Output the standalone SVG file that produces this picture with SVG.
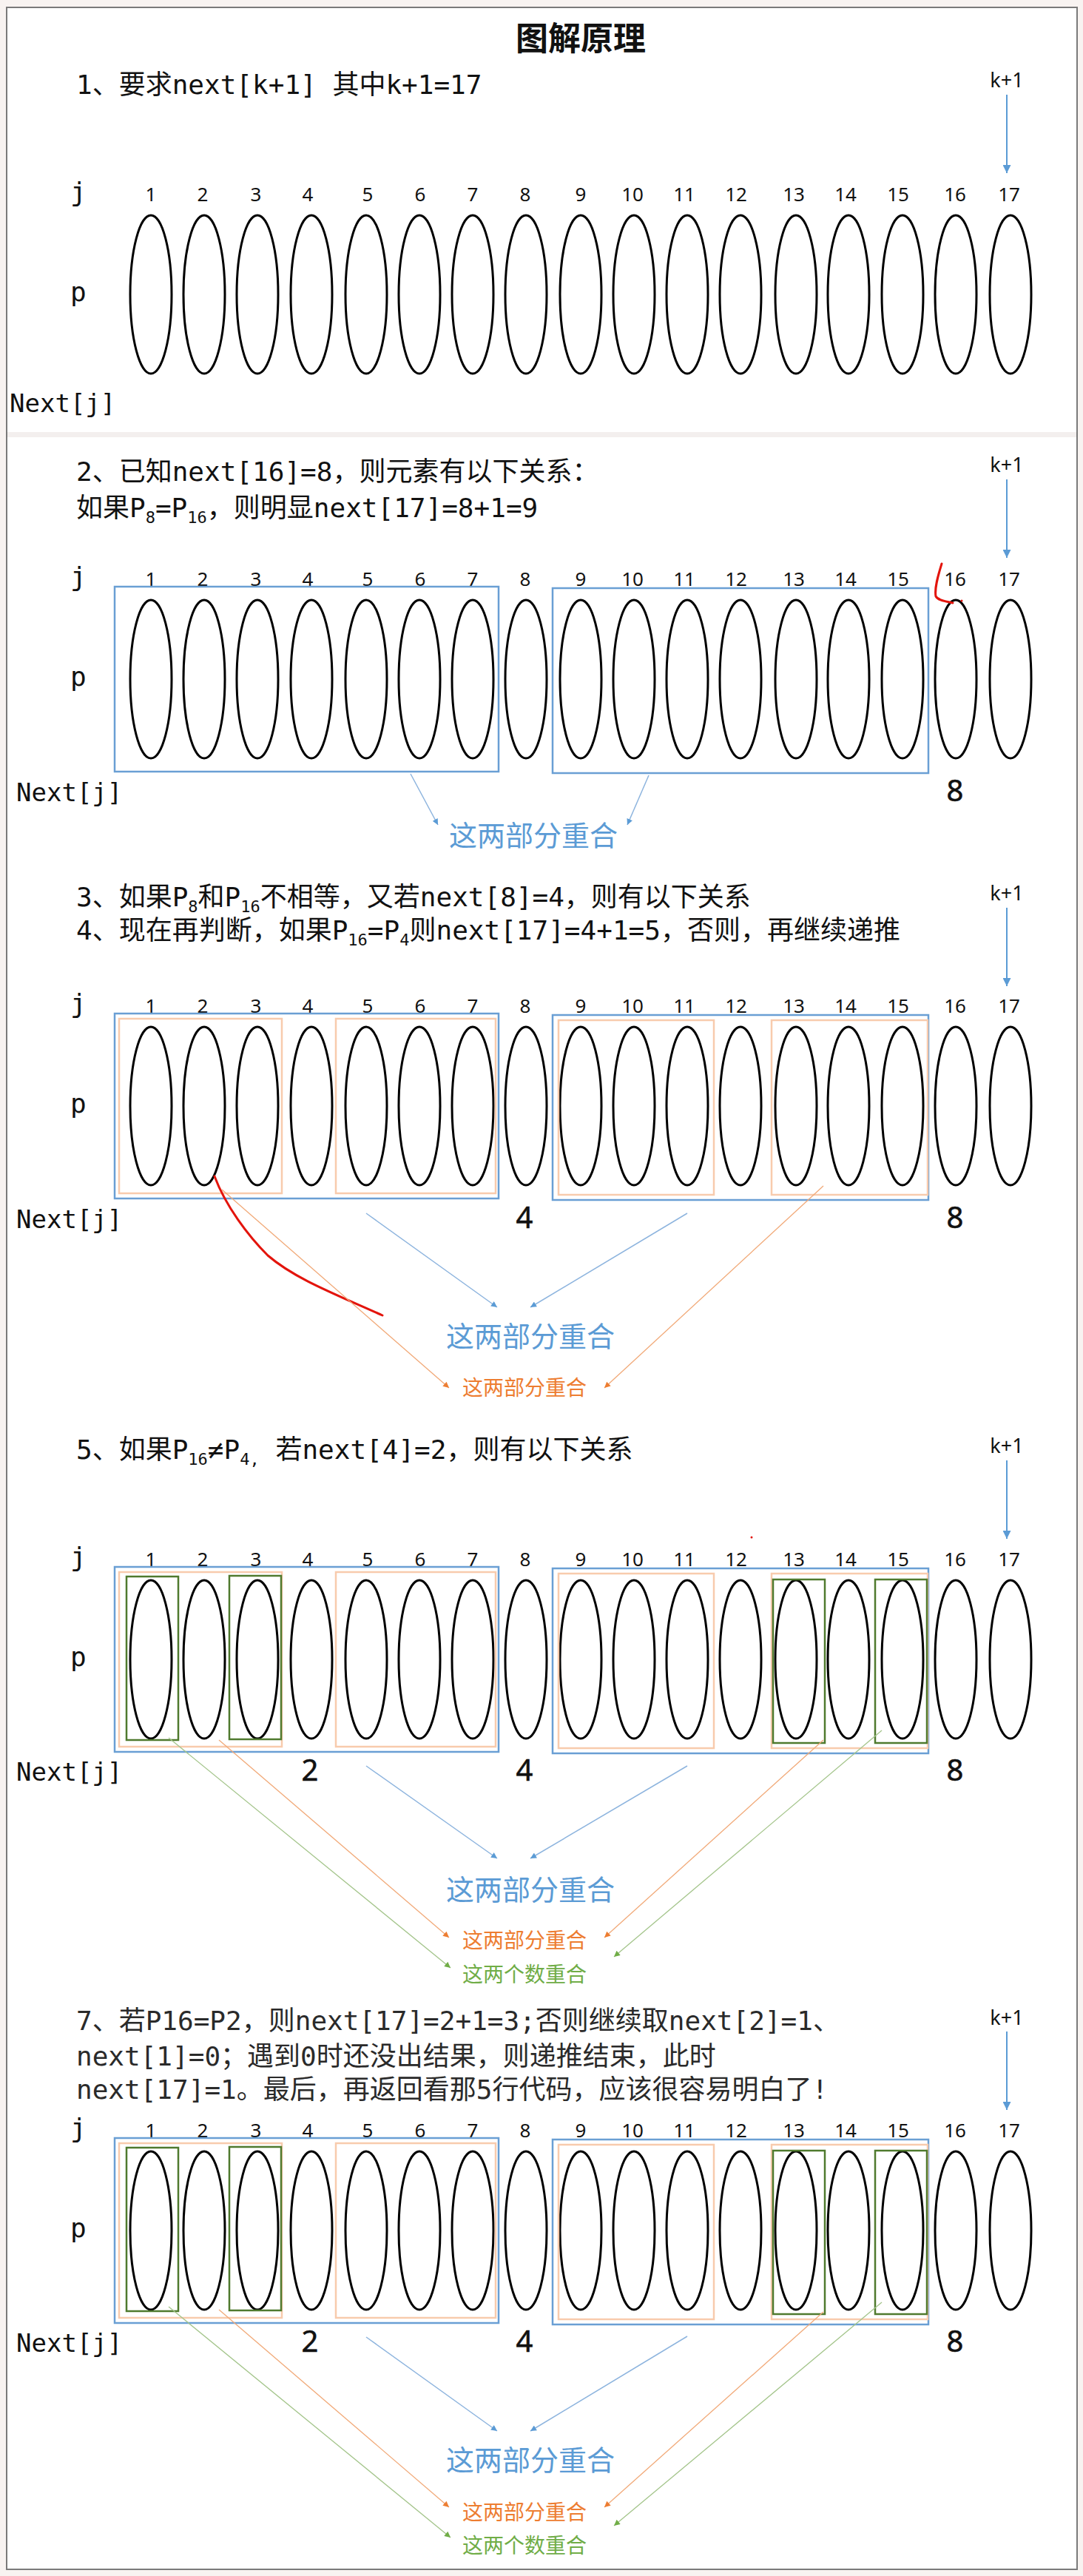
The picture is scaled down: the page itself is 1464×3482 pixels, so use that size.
<svg xmlns="http://www.w3.org/2000/svg" width="1464" height="3482" viewBox="0 0 1464 3482">
<style>
.t{font-family:'DejaVu Sans Mono','Noto Sans CJK SC',monospace;font-size:36px;fill:#111}
.t7{fill:#2a2a2a}
.sub{font-size:22px}
.ttl{font-family:'Noto Sans CJK SC',sans-serif;font-size:44px;font-weight:bold;fill:#111}
.n{font-family:'Noto Sans','Noto Sans CJK SC',sans-serif;font-size:26px;fill:#111;text-anchor:middle}
.k{font-family:'Noto Sans',sans-serif;font-size:27px;fill:#111;text-anchor:middle}
.lab{font-family:'DejaVu Sans Mono',monospace;font-size:36px;fill:#111}
.nx{font-family:'DejaVu Sans Mono',monospace;font-size:34px;fill:#111}
.v{font-family:'Noto Sans',sans-serif;font-size:40px;fill:#111;text-anchor:middle;stroke:#111;stroke-width:0.6}
.lb{font-family:'Noto Sans CJK SC',sans-serif;font-size:38px;fill:#5b9bd5;text-anchor:middle}
.lo{font-family:'Noto Sans CJK SC',sans-serif;font-size:28px;fill:#ed7d31;text-anchor:middle}
.lg{font-family:'Noto Sans CJK SC',sans-serif;font-size:28px;fill:#70ad47;text-anchor:middle}
ellipse{fill:none;stroke:#000;stroke-width:3}
.bb{fill:none;stroke:#6a9fd4;stroke-width:2.5}
.ob{fill:none;stroke:#f8cbad;stroke-width:2.5}
.gb{fill:none;stroke:#4f7a2e;stroke-width:2.5}
.ab{fill:none;stroke:#8db4de;stroke-width:1.5}
.ao{fill:none;stroke:#f1a978;stroke-width:1.3}
.ag{fill:none;stroke:#a3c48a;stroke-width:1.3}
.ak{fill:none;stroke:#5b9bd5;stroke-width:2}
.red{fill:none;stroke:#e3140c;stroke-width:3;stroke-linecap:round}
</style>
<defs>
<marker id="mk" viewBox="0 0 10 10" refX="10" refY="5" markerWidth="12" markerHeight="11" markerUnits="userSpaceOnUse" orient="auto"><path d="M0,0 L10,5 L0,10 z" fill="#5b9bd5"/></marker>
<marker id="mb" viewBox="0 0 10 10" refX="10" refY="5" markerWidth="10" markerHeight="8" markerUnits="userSpaceOnUse" orient="auto"><path d="M0,0 L10,5 L0,10 z" fill="#5b9bd5"/></marker>
<marker id="mo" viewBox="0 0 10 10" refX="10" refY="5" markerWidth="10" markerHeight="8" markerUnits="userSpaceOnUse" orient="auto"><path d="M0,0 L10,5 L0,10 z" fill="#ed7d31"/></marker>
<marker id="mg" viewBox="0 0 10 10" refX="10" refY="5" markerWidth="10" markerHeight="8" markerUnits="userSpaceOnUse" orient="auto"><path d="M0,0 L10,5 L0,10 z" fill="#70ad47"/></marker>
</defs>
<rect x="0" y="0" width="1464" height="3482" fill="#f8f3f1"/>
<rect x="9" y="10" width="1447" height="3463" fill="#fff" stroke="#7a7a7a" stroke-width="2"/>
<rect x="10" y="584" width="1445" height="7" fill="#f3efee"/>

<text class="ttl" x="785" y="68" text-anchor="middle">图解原理</text>

<!-- Section 1 -->
<g id="s1">
<text class="t" x="103" y="127">1、要求next[k+1] 其中k+1=17</text>
<text class="k" x="1361" y="118">k+1</text>
<text class="lab" x="95" y="272">j</text>
<text class="lab" x="95" y="407">p</text>
<text class="nx" x="13" y="557">Next[j]</text>
<g id="s1-cells">
<text class="n" x="204" y="272">1</text><text class="n" x="274" y="272">2</text><text class="n" x="346" y="272">3</text><text class="n" x="416" y="272">4</text><text class="n" x="497" y="272">5</text><text class="n" x="568" y="272">6</text><text class="n" x="639" y="272">7</text><text class="n" x="710" y="272">8</text><text class="n" x="785" y="272">9</text><text class="n" x="855" y="272">10</text><text class="n" x="925" y="272">11</text><text class="n" x="995" y="272">12</text><text class="n" x="1073" y="272">13</text><text class="n" x="1143" y="272">14</text><text class="n" x="1214" y="272">15</text><text class="n" x="1291" y="272">16</text><text class="n" x="1364" y="272">17</text>
<ellipse cx="204" cy="398" rx="28" ry="107"/><ellipse cx="276" cy="398" rx="28" ry="107"/><ellipse cx="348" cy="398" rx="28" ry="107"/><ellipse cx="421" cy="398" rx="28" ry="107"/><ellipse cx="495" cy="398" rx="28" ry="107"/><ellipse cx="567" cy="398" rx="28" ry="107"/><ellipse cx="639" cy="398" rx="28" ry="107"/><ellipse cx="711" cy="398" rx="28" ry="107"/><ellipse cx="785" cy="398" rx="28" ry="107"/><ellipse cx="857" cy="398" rx="28" ry="107"/><ellipse cx="929" cy="398" rx="28" ry="107"/><ellipse cx="1001" cy="398" rx="28" ry="107"/><ellipse cx="1076" cy="398" rx="28" ry="107"/><ellipse cx="1147" cy="398" rx="28" ry="107"/><ellipse cx="1220" cy="398" rx="28" ry="107"/><ellipse cx="1292" cy="398" rx="28" ry="107"/><ellipse cx="1366" cy="398" rx="28" ry="107"/>
</g>
</g>

<!-- Section 2 -->
<g id="s2">
<text class="t" x="103" y="650">2、已知next[16]=8，则元素有以下关系：</text>
<text class="t" x="103" y="699">如果P<tspan class="sub" dy="8">8</tspan><tspan dy="-8">=P</tspan><tspan class="sub" dy="8">16</tspan><tspan dy="-8">，则明显next[17]=8+1=9</tspan></text>
<text class="k" x="1361" y="638">k+1</text>
<text class="lab" x="95" y="792">j</text>
<text class="lab" x="95" y="927">p</text>
<text class="nx" x="22" y="1083">Next[j]</text>
<text class="v" x="1291" y="1083">8</text>
<g id="s2-cells">
<text class="n" x="204" y="792">1</text><text class="n" x="274" y="792">2</text><text class="n" x="346" y="792">3</text><text class="n" x="416" y="792">4</text><text class="n" x="497" y="792">5</text><text class="n" x="568" y="792">6</text><text class="n" x="639" y="792">7</text><text class="n" x="710" y="792">8</text><text class="n" x="785" y="792">9</text><text class="n" x="855" y="792">10</text><text class="n" x="925" y="792">11</text><text class="n" x="995" y="792">12</text><text class="n" x="1073" y="792">13</text><text class="n" x="1143" y="792">14</text><text class="n" x="1214" y="792">15</text><text class="n" x="1291" y="792">16</text><text class="n" x="1364" y="792">17</text>
<ellipse cx="204" cy="918" rx="28" ry="107"/><ellipse cx="276" cy="918" rx="28" ry="107"/><ellipse cx="348" cy="918" rx="28" ry="107"/><ellipse cx="421" cy="918" rx="28" ry="107"/><ellipse cx="495" cy="918" rx="28" ry="107"/><ellipse cx="567" cy="918" rx="28" ry="107"/><ellipse cx="639" cy="918" rx="28" ry="107"/><ellipse cx="711" cy="918" rx="28" ry="107"/><ellipse cx="785" cy="918" rx="28" ry="107"/><ellipse cx="857" cy="918" rx="28" ry="107"/><ellipse cx="929" cy="918" rx="28" ry="107"/><ellipse cx="1001" cy="918" rx="28" ry="107"/><ellipse cx="1076" cy="918" rx="28" ry="107"/><ellipse cx="1147" cy="918" rx="28" ry="107"/><ellipse cx="1220" cy="918" rx="28" ry="107"/><ellipse cx="1292" cy="918" rx="28" ry="107"/><ellipse cx="1366" cy="918" rx="28" ry="107"/>
</g>
<rect class="bb" x="155" y="793" width="519" height="250"/>
<rect class="bb" x="747" y="795" width="508" height="250"/>
<text class="lb" x="721" y="1143">这两部分重合</text>
<path class="red" d="M1273,762 C1268,778 1263,795 1265,806 C1268,812 1280,813 1288,815"/>
<circle cx="1300" cy="812" r="1.5" fill="#e3140c"/>
</g>

<!-- Section 3/4 -->
<g id="s3">
<text class="t" x="103" y="1225">3、如果P<tspan class="sub" dy="8">8</tspan><tspan dy="-8">和P</tspan><tspan class="sub" dy="8">16</tspan><tspan dy="-8">不相等，又若next[8]=4，则有以下关系</tspan></text>
<text class="t" x="103" y="1270">4、现在再判断，如果P<tspan class="sub" dy="8">16</tspan><tspan dy="-8">=P</tspan><tspan class="sub" dy="8">4</tspan><tspan dy="-8">则next[17]=4+1=5，否则，再继续递推</tspan></text>
<text class="k" x="1361" y="1217">k+1</text>
<text class="lab" x="95" y="1369">j</text>
<text class="lab" x="95" y="1504">p</text>
<text class="nx" x="22" y="1660">Next[j]</text>
<text class="v" x="709" y="1660">4</text>
<text class="v" x="1291" y="1660">8</text>
<g id="s3-cells">
<text class="n" x="204" y="1369">1</text><text class="n" x="274" y="1369">2</text><text class="n" x="346" y="1369">3</text><text class="n" x="416" y="1369">4</text><text class="n" x="497" y="1369">5</text><text class="n" x="568" y="1369">6</text><text class="n" x="639" y="1369">7</text><text class="n" x="710" y="1369">8</text><text class="n" x="785" y="1369">9</text><text class="n" x="855" y="1369">10</text><text class="n" x="925" y="1369">11</text><text class="n" x="995" y="1369">12</text><text class="n" x="1073" y="1369">13</text><text class="n" x="1143" y="1369">14</text><text class="n" x="1214" y="1369">15</text><text class="n" x="1291" y="1369">16</text><text class="n" x="1364" y="1369">17</text>
<ellipse cx="204" cy="1495" rx="28" ry="107"/><ellipse cx="276" cy="1495" rx="28" ry="107"/><ellipse cx="348" cy="1495" rx="28" ry="107"/><ellipse cx="421" cy="1495" rx="28" ry="107"/><ellipse cx="495" cy="1495" rx="28" ry="107"/><ellipse cx="567" cy="1495" rx="28" ry="107"/><ellipse cx="639" cy="1495" rx="28" ry="107"/><ellipse cx="711" cy="1495" rx="28" ry="107"/><ellipse cx="785" cy="1495" rx="28" ry="107"/><ellipse cx="857" cy="1495" rx="28" ry="107"/><ellipse cx="929" cy="1495" rx="28" ry="107"/><ellipse cx="1001" cy="1495" rx="28" ry="107"/><ellipse cx="1076" cy="1495" rx="28" ry="107"/><ellipse cx="1147" cy="1495" rx="28" ry="107"/><ellipse cx="1220" cy="1495" rx="28" ry="107"/><ellipse cx="1292" cy="1495" rx="28" ry="107"/><ellipse cx="1366" cy="1495" rx="28" ry="107"/>
</g>
<rect class="bb" x="155" y="1370" width="519" height="250"/>
<rect class="bb" x="747" y="1372" width="508" height="250"/>
<rect class="ob" x="161" y="1377" width="220" height="236"/>
<rect class="ob" x="454" y="1377" width="216" height="236"/>
<rect class="ob" x="755" y="1379" width="210" height="236"/>
<rect class="ob" x="1043" y="1379" width="211" height="236"/>
<text class="lb" x="717" y="1820">这两部分重合</text>
<text class="lo" x="709" y="1886">这两部分重合</text>
<path class="red" d="M290,1590 C305,1630 335,1670 362,1697 C398,1728 450,1748 517,1778"/>
</g>

<!-- Section 5 -->
<g id="s5">
<text class="t" x="103" y="1972">5、如果P<tspan class="sub" dy="8">16</tspan><tspan dy="-8">≠P</tspan><tspan class="sub" dy="8">4,</tspan><tspan dy="-8"> 若next[4]=2，则有以下关系</tspan></text>
<text class="k" x="1361" y="1964">k+1</text>
<text class="lab" x="95" y="2117">j</text>
<text class="lab" x="95" y="2252">p</text>
<text class="nx" x="22" y="2407">Next[j]</text>
<text class="v" x="419" y="2407">2</text>
<text class="v" x="709" y="2407">4</text>
<text class="v" x="1291" y="2407">8</text>
<g id="s5-cells">
<text class="n" x="204" y="2117">1</text><text class="n" x="274" y="2117">2</text><text class="n" x="346" y="2117">3</text><text class="n" x="416" y="2117">4</text><text class="n" x="497" y="2117">5</text><text class="n" x="568" y="2117">6</text><text class="n" x="639" y="2117">7</text><text class="n" x="710" y="2117">8</text><text class="n" x="785" y="2117">9</text><text class="n" x="855" y="2117">10</text><text class="n" x="925" y="2117">11</text><text class="n" x="995" y="2117">12</text><text class="n" x="1073" y="2117">13</text><text class="n" x="1143" y="2117">14</text><text class="n" x="1214" y="2117">15</text><text class="n" x="1291" y="2117">16</text><text class="n" x="1364" y="2117">17</text>
<ellipse cx="204" cy="2243" rx="28" ry="107"/><ellipse cx="276" cy="2243" rx="28" ry="107"/><ellipse cx="348" cy="2243" rx="28" ry="107"/><ellipse cx="421" cy="2243" rx="28" ry="107"/><ellipse cx="495" cy="2243" rx="28" ry="107"/><ellipse cx="567" cy="2243" rx="28" ry="107"/><ellipse cx="639" cy="2243" rx="28" ry="107"/><ellipse cx="711" cy="2243" rx="28" ry="107"/><ellipse cx="785" cy="2243" rx="28" ry="107"/><ellipse cx="857" cy="2243" rx="28" ry="107"/><ellipse cx="929" cy="2243" rx="28" ry="107"/><ellipse cx="1001" cy="2243" rx="28" ry="107"/><ellipse cx="1076" cy="2243" rx="28" ry="107"/><ellipse cx="1147" cy="2243" rx="28" ry="107"/><ellipse cx="1220" cy="2243" rx="28" ry="107"/><ellipse cx="1292" cy="2243" rx="28" ry="107"/><ellipse cx="1366" cy="2243" rx="28" ry="107"/>
</g>
<rect class="bb" x="155" y="2118" width="519" height="250"/>
<rect class="bb" x="747" y="2120" width="508" height="250"/>
<rect class="ob" x="161" y="2125" width="220" height="236"/>
<rect class="ob" x="454" y="2125" width="216" height="236"/>
<rect class="ob" x="755" y="2127" width="210" height="236"/>
<rect class="ob" x="1043" y="2127" width="211" height="236"/>
<rect class="gb" x="171" y="2131" width="70" height="221"/>
<rect class="gb" x="310" y="2130" width="70" height="221"/>
<rect class="gb" x="1045" y="2135" width="70" height="221"/>
<rect class="gb" x="1183" y="2135" width="70" height="221"/>
<text class="lb" x="717" y="2568">这两部分重合</text>
<text class="lo" x="709" y="2633">这两部分重合</text>
<text class="lg" x="709" y="2679">这两个数重合</text>
<circle cx="1016" cy="2078" r="1.5" fill="#e3140c"/>
</g>

<!-- Section 7 -->
<g id="s7">
<text class="t t7" x="103" y="2744">7、若P16=P2，则next[17]=2+1=3;否则继续取next[2]=1、</text>
<text class="t t7" x="103" y="2792">next[1]=0；遇到0时还没出结果，则递推结束，此时</text>
<text class="t t7" x="103" y="2837">next[17]=1。最后，再返回看那5行代码，应该很容易明白了!</text>
<text class="k" x="1361" y="2737">k+1</text>
<text class="lab" x="95" y="2889">j</text>
<text class="lab" x="95" y="3024">p</text>
<text class="nx" x="22" y="3179">Next[j]</text>
<text class="v" x="419" y="3179">2</text>
<text class="v" x="709" y="3179">4</text>
<text class="v" x="1291" y="3179">8</text>
<g id="s7-cells">
<text class="n" x="204" y="2889">1</text><text class="n" x="274" y="2889">2</text><text class="n" x="346" y="2889">3</text><text class="n" x="416" y="2889">4</text><text class="n" x="497" y="2889">5</text><text class="n" x="568" y="2889">6</text><text class="n" x="639" y="2889">7</text><text class="n" x="710" y="2889">8</text><text class="n" x="785" y="2889">9</text><text class="n" x="855" y="2889">10</text><text class="n" x="925" y="2889">11</text><text class="n" x="995" y="2889">12</text><text class="n" x="1073" y="2889">13</text><text class="n" x="1143" y="2889">14</text><text class="n" x="1214" y="2889">15</text><text class="n" x="1291" y="2889">16</text><text class="n" x="1364" y="2889">17</text>
<ellipse cx="204" cy="3015" rx="28" ry="107"/><ellipse cx="276" cy="3015" rx="28" ry="107"/><ellipse cx="348" cy="3015" rx="28" ry="107"/><ellipse cx="421" cy="3015" rx="28" ry="107"/><ellipse cx="495" cy="3015" rx="28" ry="107"/><ellipse cx="567" cy="3015" rx="28" ry="107"/><ellipse cx="639" cy="3015" rx="28" ry="107"/><ellipse cx="711" cy="3015" rx="28" ry="107"/><ellipse cx="785" cy="3015" rx="28" ry="107"/><ellipse cx="857" cy="3015" rx="28" ry="107"/><ellipse cx="929" cy="3015" rx="28" ry="107"/><ellipse cx="1001" cy="3015" rx="28" ry="107"/><ellipse cx="1076" cy="3015" rx="28" ry="107"/><ellipse cx="1147" cy="3015" rx="28" ry="107"/><ellipse cx="1220" cy="3015" rx="28" ry="107"/><ellipse cx="1292" cy="3015" rx="28" ry="107"/><ellipse cx="1366" cy="3015" rx="28" ry="107"/>
</g>
<rect class="bb" x="155" y="2890" width="519" height="250"/>
<rect class="bb" x="747" y="2892" width="508" height="250"/>
<rect class="ob" x="161" y="2897" width="220" height="236"/>
<rect class="ob" x="454" y="2897" width="216" height="236"/>
<rect class="ob" x="755" y="2899" width="210" height="236"/>
<rect class="ob" x="1043" y="2899" width="211" height="236"/>
<rect class="gb" x="171" y="2903" width="70" height="221"/>
<rect class="gb" x="310" y="2902" width="70" height="221"/>
<rect class="gb" x="1045" y="2907" width="70" height="221"/>
<rect class="gb" x="1183" y="2907" width="70" height="221"/>
<text class="lb" x="717" y="3339">这两部分重合</text>
<text class="lo" x="709" y="3406">这两部分重合</text>
<text class="lg" x="709" y="3451">这两个数重合</text>
</g>

<g id="connectors">
<line class="ak" x1="1361" y1="128" x2="1361" y2="234" marker-end="url(#mk)"/>
<line class="ak" x1="1361" y1="648" x2="1361" y2="754" marker-end="url(#mk)"/>
<line class="ak" x1="1361" y1="1227" x2="1361" y2="1333" marker-end="url(#mk)"/>
<line class="ak" x1="1361" y1="1974" x2="1361" y2="2080" marker-end="url(#mk)"/>
<line class="ak" x1="1361" y1="2746" x2="1361" y2="2852" marker-end="url(#mk)"/>

<line class="ab" x1="555" y1="1046" x2="592" y2="1115" marker-end="url(#mb)"/>
<line class="ab" x1="877" y1="1048" x2="848" y2="1115" marker-end="url(#mb)"/>

<line class="ab" x1="495" y1="1640" x2="672" y2="1767" marker-end="url(#mb)"/>
<line class="ab" x1="929" y1="1640" x2="717" y2="1767" marker-end="url(#mb)"/>
<line class="ao" x1="300" y1="1608" x2="607" y2="1876" marker-end="url(#mo)"/>
<line class="ao" x1="1113" y1="1603" x2="817" y2="1876" marker-end="url(#mo)"/>

<line class="ab" x1="495" y1="2387" x2="672" y2="2512" marker-end="url(#mb)"/>
<line class="ab" x1="929" y1="2387" x2="717" y2="2512" marker-end="url(#mb)"/>
<line class="ao" x1="296" y1="2352" x2="607" y2="2619" marker-end="url(#mo)"/>
<line class="ao" x1="1113" y1="2352" x2="817" y2="2619" marker-end="url(#mo)"/>
<line class="ag" x1="228" y1="2349" x2="609" y2="2660" marker-end="url(#mg)"/>
<line class="ag" x1="1192" y1="2339" x2="830" y2="2645" marker-end="url(#mg)"/>

<line class="ab" x1="495" y1="3159" x2="672" y2="3286" marker-end="url(#mb)"/>
<line class="ab" x1="929" y1="3158" x2="717" y2="3286" marker-end="url(#mb)"/>
<line class="ao" x1="296" y1="3122" x2="607" y2="3389" marker-end="url(#mo)"/>
<line class="ao" x1="1113" y1="3125" x2="817" y2="3389" marker-end="url(#mo)"/>
<line class="ag" x1="228" y1="3118" x2="609" y2="3430" marker-end="url(#mg)"/>
<line class="ag" x1="1192" y1="3112" x2="830" y2="3414" marker-end="url(#mg)"/>
</g>
</svg>
